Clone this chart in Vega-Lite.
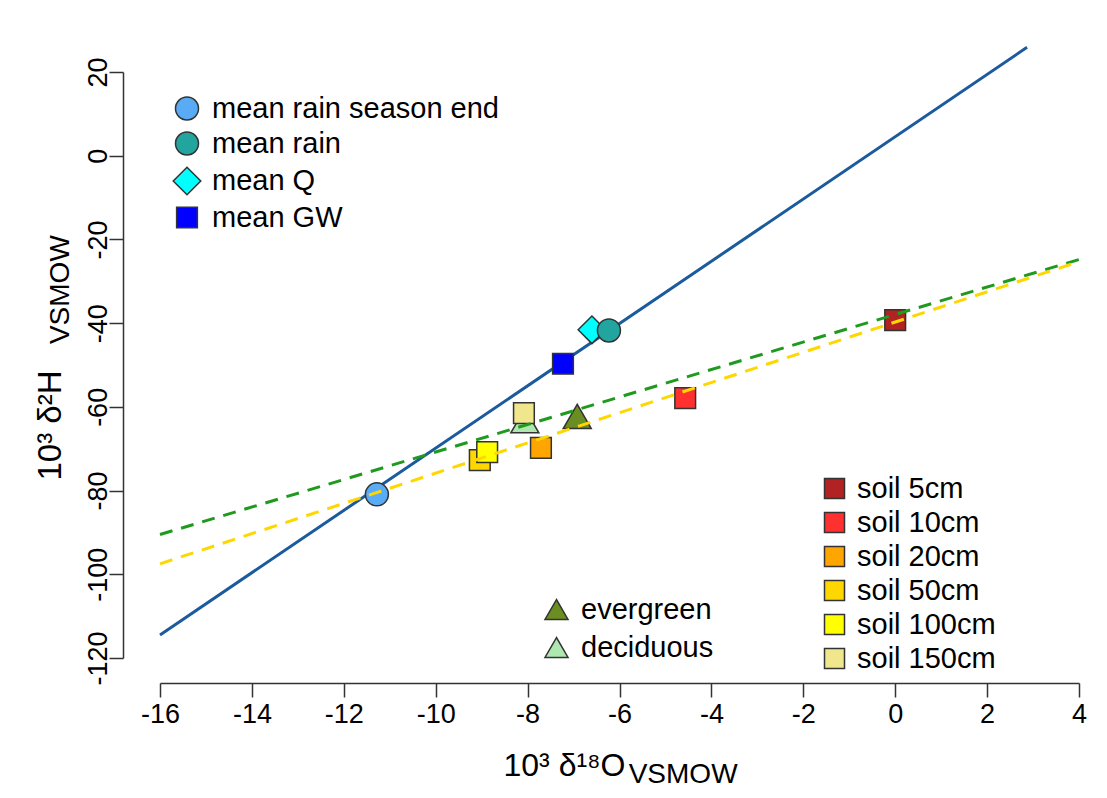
{
  "$schema": "https://vega.github.io/schema/vega-lite/v6.json",
  "width": 919,
  "height": 586,
  "autosize": {"type": "none"},
  "padding": {"left": 160, "top": 72, "right": 28, "bottom": 140},
  "background": "white",
  "config": {
    "view": {"stroke": null},
    "font": "Liberation Sans",
    "axis": {
      "grid": false,
      "domainColor": "#333333",
      "tickColor": "#333333",
      "domainWidth": 1.5,
      "tickWidth": 1.5,
      "labelColor": "black",
      "titleColor": "black",
      "labelFont": "Liberation Sans",
      "titleFont": "Liberation Sans",
      "labelFlush": false,
      "labelOverlap": false,
      "titleFontWeight": "normal"
    },
    "legend": {
      "orient": "none",
      "padding": 0,
      "labelFont": "Liberation Sans",
      "labelFontSize": 29,
      "labelColor": "black",
      "labelLimit": 500,
      "symbolStrokeColor": "#333333",
      "symbolStrokeWidth": 1.5,
      "symbolOpacity": 1
    }
  },
  "datasets": {
    "gmwl": [
      {"d18O": -16, "d2H": -114.5},
      {"d18O": 2.87, "d2H": 25.9}
    ],
    "fits": [
      {"series": "vegetation", "d18O": -16, "d2H": -90.5},
      {"series": "vegetation", "d18O": 4, "d2H": -24.8},
      {"series": "soil", "d18O": -16, "d2H": -97.5},
      {"series": "soil", "d18O": 4, "d2H": -25.3}
    ],
    "veg": [
      {"name": "deciduous", "d18O": -8.06, "d2H": -63.3},
      {"name": "evergreen", "d18O": -6.92, "d2H": -62.3}
    ],
    "rain": [
      {"name": "mean Q", "d18O": -6.6, "d2H": -41.6},
      {"name": "mean rain", "d18O": -6.23, "d2H": -41.75},
      {"name": "mean rain season end", "d18O": -11.28, "d2H": -80.9},
      {"name": "mean GW", "d18O": -7.23, "d2H": -49.7}
    ],
    "soil": [
      {"name": "soil 5cm", "d18O": 0.0, "d2H": -39.3},
      {"name": "soil 10cm", "d18O": -4.57, "d2H": -57.9},
      {"name": "soil 20cm", "d18O": -7.71, "d2H": -69.8},
      {"name": "soil 50cm", "d18O": -9.04, "d2H": -72.7},
      {"name": "soil 100cm", "d18O": -8.88, "d2H": -70.8},
      {"name": "soil 150cm", "d18O": -8.08, "d2H": -61.5}
    ]
  },
  "layer": [
    {
      "data": {"name": "gmwl"},
      "mark": {"type": "line", "color": "#1b5a9c", "strokeWidth": 3},
      "encoding": {
        "x": {
          "field": "d18O",
          "type": "quantitative",
          "scale": {"domain": [-16, 4], "nice": false, "zero": false},
          "axis": {
            "title": "10³ δ¹⁸O",
            "values": [-16, -14, -12, -10, -8, -6, -4, -2, 0, 2, 4],
            "labelExpr": "'' + datum.value",
            "offset": 25,
            "tickSize": 14,
            "labelFontSize": 27,
            "labelPadding": 4,
            "titleFontSize": 32,
            "titleX": 343,
            "titleY": 92,
            "titleAlign": "left",
            "titleBaseline": "alphabetic",
            "titleAnchor": null
          }
        },
        "y": {
          "field": "d2H",
          "type": "quantitative",
          "scale": {"domain": [-120, 20], "nice": false, "zero": false},
          "axis": {
            "title": "10³ δ²H",
            "values": [-120, -100, -80, -60, -40, -20, 0, 20],
            "labelExpr": "'' + datum.value",
            "offset": 37,
            "tickSize": 14,
            "labelAngle": 270,
            "labelAlign": "center",
            "labelBaseline": "alphabetic",
            "labelPadding": 3,
            "labelFontSize": 27,
            "titleFontSize": 33,
            "titleAngle": 270,
            "titleX": -63,
            "titleY": 408,
            "titleAlign": "left",
            "titleBaseline": "alphabetic",
            "titleAnchor": null
          }
        }
      }
    },
    {
      "data": {"name": "veg"},
      "mark": {"type": "point", "filled": true, "size": 784, "stroke": "#333333", "strokeWidth": 1.5, "opacity": 1},
      "encoding": {
        "x": {"field": "d18O", "type": "quantitative"},
        "y": {"field": "d2H", "type": "quantitative"},
        "fill": {
          "field": "name",
          "type": "nominal",
          "scale": {"domain": ["evergreen", "deciduous"], "range": ["#6b8e23", "#aee8b0"]},
          "legend": {"title": null, "orient": "none", "legendX": 382, "legendY": 523, "symbolSize": 529, "rowPadding": 8, "labelOffset": 10,
            "encode": {"symbols": {"update": {"stroke": {"value": "#333333"}, "strokeWidth": {"value": 1.5}}}}}
        },
        "shape": {
          "field": "name",
          "type": "nominal",
          "scale": {"domain": ["evergreen", "deciduous"], "range": ["triangle-up", "triangle-up"]},
          "legend": {"title": null, "orient": "none", "legendX": 382, "legendY": 523, "symbolSize": 529, "rowPadding": 8, "labelOffset": 10,
            "encode": {"symbols": {"update": {"stroke": {"value": "#333333"}, "strokeWidth": {"value": 1.5}}}}}
        }
      }
    },
    {
      "data": {"name": "rain"},
      "mark": {"type": "point", "filled": true, "stroke": "#333333", "strokeWidth": 1.5, "opacity": 1},
      "encoding": {
        "x": {"field": "d18O", "type": "quantitative"},
        "y": {"field": "d2H", "type": "quantitative"},
        "fill": {
          "field": "name",
          "type": "nominal",
          "scale": {"domain": ["mean rain season end", "mean rain", "mean Q", "mean GW"], "range": ["#5aabf5", "#22a59f", "#00ffff", "#0000ff"]},
          "legend": {"title": null, "orient": "none", "legendX": 12, "legendY": 22, "rowPadding": 5, "labelOffset": 10,
            "encode": {"symbols": {"update": {"stroke": {"value": "#333333"}, "strokeWidth": {"value": 1.5}}}}}
        },
        "shape": {
          "field": "name",
          "type": "nominal",
          "scale": {"domain": ["mean rain season end", "mean rain", "mean Q", "mean GW"], "range": ["circle", "circle", "diamond", "square"]},
          "legend": {"title": null, "orient": "none", "legendX": 12, "legendY": 22, "rowPadding": 5, "labelOffset": 10,
            "encode": {"symbols": {"update": {"stroke": {"value": "#333333"}, "strokeWidth": {"value": 1.5}}}}}
        },
        "size": {
          "field": "name",
          "type": "nominal",
          "scale": {"type": "ordinal", "domain": ["mean rain season end", "mean rain", "mean Q", "mean GW"], "range": [529, 529, 760, 430]},
          "legend": {"title": null, "orient": "none", "legendX": 12, "legendY": 22, "rowPadding": 5, "labelOffset": 10,
            "encode": {"symbols": {"update": {"stroke": {"value": "#333333"}, "strokeWidth": {"value": 1.5}}}}}
        }
      }
    },
    {
      "data": {"name": "soil"},
      "mark": {"type": "point", "filled": true, "size": 430, "stroke": "#333333", "strokeWidth": 1.5, "opacity": 1},
      "encoding": {
        "x": {"field": "d18O", "type": "quantitative"},
        "y": {"field": "d2H", "type": "quantitative"},
        "fill": {
          "field": "name",
          "type": "nominal",
          "scale": {"domain": ["soil 5cm", "soil 10cm", "soil 20cm", "soil 50cm", "soil 100cm", "soil 150cm"], "range": ["#b22222", "#ff3030", "#ffa500", "#ffd700", "#ffff00", "#f0e68c"]},
          "legend": {"title": null, "orient": "none", "legendX": 660, "legendY": 402, "symbolSize": 400, "rowPadding": 4, "labelOffset": 8,
            "encode": {"symbols": {"update": {"stroke": {"value": "#333333"}, "strokeWidth": {"value": 1.5}}}}}
        },
        "shape": {
          "field": "name",
          "type": "nominal",
          "scale": {"domain": ["soil 5cm", "soil 10cm", "soil 20cm", "soil 50cm", "soil 100cm", "soil 150cm"], "range": ["square", "square", "square", "square", "square", "square"]},
          "legend": {"title": null, "orient": "none", "legendX": 660, "legendY": 402, "symbolSize": 400, "rowPadding": 4, "labelOffset": 8,
            "encode": {"symbols": {"update": {"stroke": {"value": "#333333"}, "strokeWidth": {"value": 1.5}}}}}
        }
      }
    },
    {
      "data": {"name": "fits"},
      "mark": {"type": "line", "strokeWidth": 3},
      "encoding": {
        "x": {"field": "d18O", "type": "quantitative"},
        "y": {"field": "d2H", "type": "quantitative"},
        "stroke": {
          "field": "series",
          "type": "nominal",
          "scale": {"domain": ["vegetation", "soil"], "range": ["#1f9a1f", "#ffd700"]},
          "legend": null
        },
        "strokeDash": {
          "field": "series",
          "type": "nominal",
          "scale": {"domain": ["vegetation", "soil"], "range": [[13, 9], [13, 9]]},
          "legend": null
        }
      }
    },
    {
      "data": {"values": [{"label": "VSMOW"}]},
      "mark": {"type": "text", "fontSize": 28, "align": "left", "baseline": "alphabetic", "color": "black", "font": "Liberation Sans"},
      "encoding": {
        "x": {"datum": -5.8},
        "y": {"datum": -149.9},
        "text": {"field": "label"}
      }
    },
    {
      "data": {"values": [{"label": "VSMOW"}]},
      "mark": {"type": "text", "fontSize": 28, "align": "left", "baseline": "alphabetic", "angle": 270, "color": "black", "font": "Liberation Sans"},
      "encoding": {
        "x": {"datum": -17.98},
        "y": {"datum": -45.0},
        "text": {"field": "label"}
      }
    }
  ],
  "resolve": {
    "scale": {"fill": "independent", "shape": "independent", "size": "independent", "stroke": "independent", "strokeDash": "independent"},
    "legend": {"fill": "independent", "shape": "independent", "size": "independent"}
  }
}
